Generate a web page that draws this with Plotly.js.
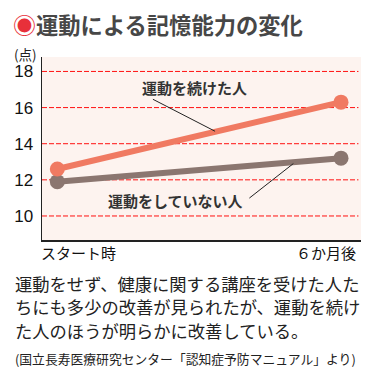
<!DOCTYPE html>
<html>
<head>
<meta charset="utf-8">
<script src="https://cdn.plot.ly/plotly-3.0.1.min.js"></script>
<style>html,body{margin:0;padding:0;background:#fff;}#chart{width:372px;height:371px;}</style>
</head>
<body>
<div id="chart"></div>
<script>
const categories = ['スタート時', '６か月後'];
const exerciseScores = [12.6, 16.3];
const noExerciseScores = [11.9, 13.2];
const seriesNames = ['運動を続けた人', '運動をしていない人'];
const yTickVals = [10, 12, 14, 16, 18];
const yTickText = ['10', '12', '14', '16', '18'];
const titleText = '運動による記憶能力の変化';
const unitText = '(点)';
const bodyLines = [
  '運動をせず、健康に関する講座を受けた人た',
  'ちにも多少の改善が見られたが、運動を続け',
  'た人のほうが明らかに改善している。'
];
const sourceText = '(国立長寿医療研究センター「認知症予防マニュアル」より)';

const JP = '"Noto Sans CJK JP", "Noto Sans", sans-serif';
const idx = categories.map((c, i) => i);

const traces = [
  {
    x: idx, y: noExerciseScores, name: seriesNames[1], type: 'scatter', mode: 'lines+markers',
    line: {color: '#8b7670', width: 6}, marker: {color: '#8b7670', size: 15}, hoverinfo: 'skip'
  },
  {
    x: idx, y: exerciseScores, name: seriesNames[0], type: 'scatter', mode: 'lines+markers',
    line: {color: '#f07a62', width: 6}, marker: {color: '#f07a62', size: 15}, hoverinfo: 'skip'
  }
];

const bodyY = [-0.235, -0.366, -0.492];
const annotations = [
  {xref: 'paper', yref: 'paper', x: -0.097, y: 1.180, xanchor: 'left', yanchor: 'middle', showarrow: false,
   text: '<span style="color:#e8303a;font-size:23px">◉</span><b>' + titleText + '</b>',
   font: {family: JP, size: 22.3, color: '#474747'}},
  {xref: 'paper', yref: 'paper', x: -0.094, y: 1.014, xanchor: 'left', yanchor: 'middle', showarrow: false,
   text: unitText, font: {family: JP, size: 13.5, color: '#222'}},
  {xref: 'paper', yref: 'paper', x: -0.008, y: -0.071, xanchor: 'left', yanchor: 'middle', showarrow: false,
   text: categories[0], font: {family: JP, size: 15, color: '#111'}},
  {xref: 'paper', yref: 'paper', x: 0.992, y: -0.071, xanchor: 'right', yanchor: 'middle', showarrow: false,
   text: categories[1], font: {family: JP, size: 15, color: '#111'}},
  {xref: 'x', yref: 'y', x: 0.482, y: 17.12, xanchor: 'center', yanchor: 'middle', showarrow: false,
   text: '<b>' + seriesNames[0] + '</b>', font: {family: JP, size: 15, color: '#333'}},
  {xref: 'x', yref: 'y', x: 0.418, y: 10.86, xanchor: 'center', yanchor: 'middle', showarrow: false,
   text: '<b>' + seriesNames[1] + '</b>', font: {family: JP, size: 15, color: '#333'}},
  {xref: 'paper', yref: 'paper', x: -0.092, y: -0.645, xanchor: 'left', yanchor: 'middle', showarrow: false,
   text: sourceText, font: {family: JP, size: 12.8, color: '#222'}}
];
bodyLines.forEach((t, i) => annotations.push({
  xref: 'paper', yref: 'paper', x: -0.092, y: bodyY[i], xanchor: 'left', yanchor: 'middle', showarrow: false,
  text: t, font: {family: JP, size: 17.3, color: '#222'}
}));

const shapes = yTickVals.map(v => ({
  type: 'line', layer: 'below', xref: 'paper', yref: 'y', x0: 0, x1: 0.992, y0: v, y1: v,
  line: {color: '#ff1010', width: 1, dash: '5px,2px'}
}));
shapes.push(
  {type: 'line', xref: 'x', yref: 'y', x0: 0.337, y0: 16.46, x1: 0.556, y1: 14.69, line: {color: '#222', width: 1}},
  {type: 'line', xref: 'x', yref: 'y', x0: 0.677, y0: 10.99, x1: 0.832, y1: 12.9, line: {color: '#222', width: 1}}
);

const layout = {
  width: 372, height: 371,
  margin: {l: 42, r: 11, t: 57, b: 131},
  paper_bgcolor: '#ffffff', plot_bgcolor: '#fdf3ef',
  showlegend: false,
  xaxis: {type: 'linear', range: [-0.054, 1.0705], showgrid: false, zeroline: false, showticklabels: false,
          showline: true, linecolor: '#222', linewidth: 1.5, ticks: '', fixedrange: true},
  yaxis: {range: [8.67, 18.8], tickvals: yTickVals, ticktext: yTickText, showgrid: false,
          zeroline: false, showline: true, linecolor: '#222', linewidth: 1.5,
          ticks: '', ticklabelstandoff: 4,
          tickfont: {family: '"Liberation Sans", Arial, sans-serif', size: 17, color: '#111'}, fixedrange: true},
  annotations: annotations,
  shapes: shapes
};

Plotly.newPlot('chart', traces, layout, {displayModeBar: false, staticPlot: true});
</script>
</body>
</html>
